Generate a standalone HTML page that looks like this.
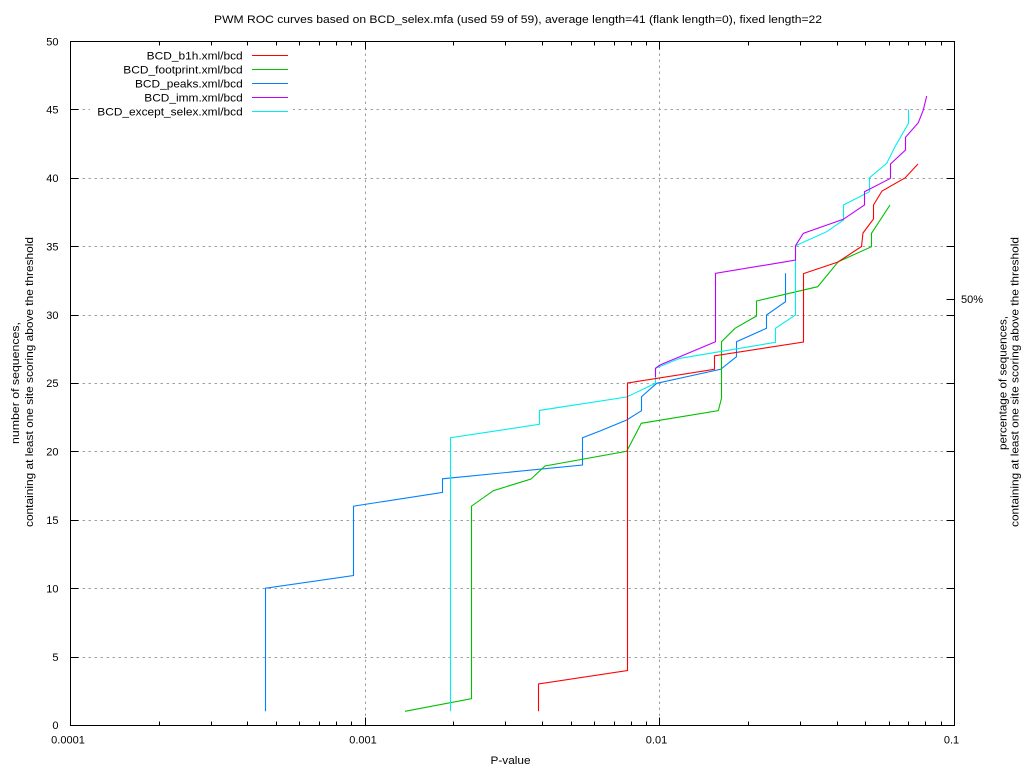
<!DOCTYPE html>
<html>
<head>
<meta charset="utf-8">
<style>
  html,body{margin:0;padding:0;background:#fff;}
  svg{display:block;}
  text{font-family:"Liberation Sans",Arial,sans-serif;font-size:11px;fill:#000;}
</style>
</head>
<body>
<svg width="1024" height="768" viewBox="0 0 1024 768" xmlns="http://www.w3.org/2000/svg">
  <rect x="0" y="0" width="1024" height="768" fill="#fff"/>

  <!-- grid -->
  <g stroke="#a0a0a0" stroke-width="1" stroke-dasharray="2.5,3.5" fill="none">
    <path d="M70.5 657.5H954.5 M70.5 588.5H954.5 M70.5 520.5H954.5 M70.5 451.5H954.5 M70.5 383.5H954.5 M70.5 315.5H954.5 M70.5 246.5H954.5 M70.5 178.5H954.5 M70.5 109.5H954.5"/>
    <path d="M365.5 41.5V725.5 M659.5 41.5V725.5"/>
  </g>

  <!-- curves -->
  <g fill="none" stroke-width="1.1" stroke-linejoin="miter">
    <!-- blue: peaks -->
    <polyline stroke="#0080ff" points="265.5,711.3 265.5,588.2 353.5,575.5 353.5,506.1 354.5,506 442.5,492.4 442.5,478.8 582.5,465 582.5,437.7 600,431 626.7,420 641.5,410.7 641.5,396.7 656.7,383.3 720.7,369.3 736.5,356.7 736.5,341.7 766.5,328.3 766.5,315 785.5,301.7 785.5,273.3"/>
    <!-- green: footprint -->
    <polyline stroke="#00c000" points="405,711.3 471.5,698.7 471.5,506.1 493.3,490.7 531,479 545,466 626.7,451.3 641.3,423.3 718.3,410.7 721.5,398.3 721.5,341.7 735,328.3 756.5,316 756.5,301 817.7,286.7 838.3,261.7 871.5,246.7 871.5,233.3 890,205"/>
    <!-- cyan: except_selex -->
    <polyline stroke="#00eeee" points="450.5,711.3 450.5,437.7 539.5,424.3 539.5,410.4 626.7,397 655.5,383.3 655.5,368.3 680,358.3 775.5,342.3 775.5,328.3 795.5,315 795.5,245.7 826.7,231.7 843.5,220 843.5,205 869.5,191.7 869.5,177.7 886.7,163.3 895,146.7 908.5,123.3 908.5,109.4"/>
    <!-- red: b1h -->
    <polyline stroke="#ff0000" points="538.5,711.3 538.5,684 627.5,670.5 627.5,383 714.5,369.3 714.5,355.8 803.5,342 803.5,273.6 838,262 861.5,246.5 863,233 873.5,219 873.5,205 882,191 905,178 918,164"/>
    <!-- purple: imm -->
    <polyline stroke="#c000ff" points="655.5,377 655.5,368.3 660,365 715.5,341.7 715.5,273.3 780,262.7 795.5,260 795.5,245.7 803.3,233.3 843.3,219.3 864.5,205 864.5,191.7 890.5,178.3 890.5,164 905.5,150 905.5,137.3 918.3,122.7 923.3,110 926.7,96"/>
  </g>

  <!-- legend -->
  <rect x="90" y="47" width="203" height="70" fill="#fff"/>
  <g text-anchor="end">
    <text x="242.7" y="59.3" textLength="96" lengthAdjust="spacingAndGlyphs">BCD_b1h.xml/bcd</text>
    <text x="242.7" y="73.3" textLength="119.4" lengthAdjust="spacingAndGlyphs">BCD_footprint.xml/bcd</text>
    <text x="242.7" y="87.3" textLength="107.7" lengthAdjust="spacingAndGlyphs">BCD_peaks.xml/bcd</text>
    <text x="242.7" y="101.3" textLength="98.4" lengthAdjust="spacingAndGlyphs">BCD_imm.xml/bcd</text>
    <text x="242.7" y="115.3" textLength="145.4" lengthAdjust="spacingAndGlyphs">BCD_except_selex.xml/bcd</text>
  </g>
  <g stroke-width="1">
    <line x1="252" y1="55.5" x2="288" y2="55.5" stroke="#ff0000"/>
    <line x1="252" y1="69.5" x2="288" y2="69.5" stroke="#00c000"/>
    <line x1="252" y1="83.5" x2="288" y2="83.5" stroke="#0080ff"/>
    <line x1="252" y1="97.5" x2="288" y2="97.5" stroke="#c000ff"/>
    <line x1="252" y1="111.5" x2="288" y2="111.5" stroke="#00eeee"/>
  </g>

  <!-- border -->
  <rect x="70.5" y="41.5" width="884" height="684" fill="none" stroke="#000" stroke-width="1"/>

  <!-- ticks -->
  <g stroke="#000" stroke-width="1" fill="none">
    <!-- bottom major -->
    <path d="M365.5 725.5V717.5 M659.5 725.5V717.5"/>
    <!-- bottom minor -->
    <path d="M159.5 725.5V721.5 M211.5 725.5V721.5 M247.5 725.5V721.5 M276.5 725.5V721.5 M299.5 725.5V721.5 M319.5 725.5V721.5 M336.5 725.5V721.5 M351.5 725.5V721.5
             M453.5 725.5V721.5 M505.5 725.5V721.5 M542.5 725.5V721.5 M571.5 725.5V721.5 M594.5 725.5V721.5 M614.5 725.5V721.5 M631.5 725.5V721.5 M646.5 725.5V721.5
             M748.5 725.5V721.5 M800.5 725.5V721.5 M837.5 725.5V721.5 M865.5 725.5V721.5 M889.5 725.5V721.5 M908.5 725.5V721.5 M925.5 725.5V721.5 M941.5 725.5V721.5"/>
    <!-- top major -->
    <path d="M365.5 41.5V49.5 M659.5 41.5V49.5"/>
    <!-- top minor -->
    <path d="M159.5 41.5V45.5 M211.5 41.5V45.5 M247.5 41.5V45.5 M276.5 41.5V45.5 M299.5 41.5V45.5 M319.5 41.5V45.5 M336.5 41.5V45.5 M351.5 41.5V45.5
             M453.5 41.5V45.5 M505.5 41.5V45.5 M542.5 41.5V45.5 M571.5 41.5V45.5 M594.5 41.5V45.5 M614.5 41.5V45.5 M631.5 41.5V45.5 M646.5 41.5V45.5
             M748.5 41.5V45.5 M800.5 41.5V45.5 M837.5 41.5V45.5 M865.5 41.5V45.5 M889.5 41.5V45.5 M908.5 41.5V45.5 M925.5 41.5V45.5 M941.5 41.5V45.5"/>
    <!-- left ticks -->
    <path d="M70.5 657.5H78.5 M70.5 588.5H78.5 M70.5 520.5H78.5 M70.5 451.5H78.5 M70.5 383.5H78.5 M70.5 315.5H78.5 M70.5 246.5H78.5 M70.5 178.5H78.5 M70.5 109.5H78.5"/>
    <!-- right ticks -->
    <path d="M954.5 657.5H946.5 M954.5 588.5H946.5 M954.5 520.5H946.5 M954.5 451.5H946.5 M954.5 383.5H946.5 M954.5 315.5H946.5 M954.5 246.5H946.5 M954.5 178.5H946.5 M954.5 109.5H946.5 M954.5 299.5H946.5"/>
  </g>

  <!-- title -->
  <text x="214" y="23" textLength="608" lengthAdjust="spacingAndGlyphs">PWM ROC curves based on BCD_selex.mfa (used 59 of 59), average length=41 (flank length=0), fixed length=22</text>

  <!-- y tick labels -->
  <g text-anchor="end">
    <text x="58.5" y="729">0</text>
    <text x="58.5" y="661">5</text>
    <text x="58.5" y="592.5">10</text>
    <text x="58.5" y="524">15</text>
    <text x="58.5" y="455.5">20</text>
    <text x="58.5" y="387">25</text>
    <text x="58.5" y="319">30</text>
    <text x="58.5" y="250.5">35</text>
    <text x="58.5" y="182">40</text>
    <text x="58.5" y="113.5">45</text>
    <text x="58.5" y="45.5">50</text>
  </g>

  <!-- x tick labels -->
  <g text-anchor="middle">
    <text x="68" y="743.5">0.0001</text>
    <text x="363" y="743.5">0.001</text>
    <text x="656.5" y="743.5">0.01</text>
    <text x="951.5" y="743.5">0.1</text>
  </g>

  <!-- right 50% label -->
  <text x="961" y="303">50%</text>

  <!-- x axis label -->
  <text x="510.5" y="764" text-anchor="middle" textLength="40" lengthAdjust="spacingAndGlyphs">P-value</text>

  <!-- left y label -->
  <text transform="translate(19,383) rotate(-90)" text-anchor="middle" textLength="122" lengthAdjust="spacingAndGlyphs">number of sequences,</text>
  <text transform="translate(33,382) rotate(-90)" text-anchor="middle" textLength="290" lengthAdjust="spacingAndGlyphs">containing at least one site scoring above the threshold</text>

  <!-- right y label -->
  <text transform="translate(1006.5,383) rotate(-90)" text-anchor="middle" textLength="134" lengthAdjust="spacingAndGlyphs">percentage of sequences,</text>
  <text transform="translate(1018.5,382) rotate(-90)" text-anchor="middle" textLength="290" lengthAdjust="spacingAndGlyphs">containing at least one site scoring above the threshold</text>
</svg>
</body>
</html>
